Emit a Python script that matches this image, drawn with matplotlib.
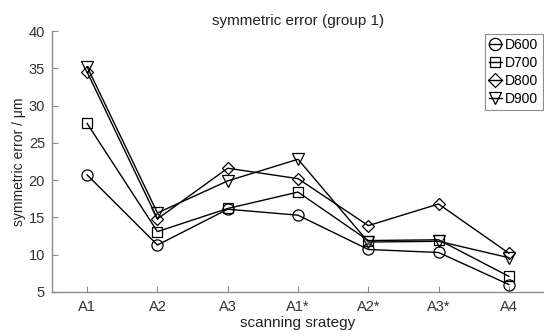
import matplotlib
matplotlib.use("Agg")
import matplotlib.pyplot as plt

plt.rcParams['font.family'] = ['Liberation Sans', 'DejaVu Sans']

# 扫描策略与各组误差
strategies = ['A1', 'A2', 'A3', 'A1*', 'A2*', 'A3*', 'A4']
d600 = [20.7, 11.3, 16.1, 15.3, 10.7, 10.3, 6.0]
d700 = [27.6, 13.1, 16.2, 18.4, 11.9, 12.0, 7.1]
d800 = [34.5, 14.8, 21.6, 20.2, 13.9, 16.8, 10.2]
d900 = [35.2, 15.6, 19.9, 22.8, 11.7, 11.8, 9.6]
yticks = [5, 10, 15, 20, 25, 30, 35, 40]

series = [('D600', d600, 'o'), ('D700', d700, 's'),
          ('D800', d800, 'D'), ('D900', d900, 'v')]
msize = {'o': 8, 's': 6.5, 'D': 6.5, 'v': 8}

fig = plt.figure(figsize=(5.44, 3.32), dpi=100)
ax = fig.add_axes([0.0956, 0.1205, 0.9044, 0.7861])

x = list(range(1, len(strategies) + 1))
for name, vals, m in series:
    ax.plot(x, vals, color='black', lw=1.0, marker=m, ms=msize[m],
            mfc='none', mec='black', mew=0.9, label=name)

ax.set_xlim(0.5, 7.5)
ax.set_ylim(5, 40)
ax.set_xticks(x)
ax.set_xticklabels(strategies)
ax.set_yticks(yticks)

grey = '#8c8c8c'
for s in ['top', 'right']:
    ax.spines[s].set_visible(False)
for s in ['left', 'bottom']:
    ax.spines[s].set_color(grey)
    ax.spines[s].set_linewidth(1.0)
ax.tick_params(direction='in', length=4, width=0.8, color=grey,
               labelcolor='#333333', labelsize=10.5, pad=5)
ax.tick_params(axis='x', pad=6)

ax.set_title('symmetric error (group 1)', fontsize=11, color='#222222', pad=4)
ax.set_xlabel('scanning srategy', fontsize=11, color='#222222', labelpad=1.5)
ax.set_ylabel('symmetric error / μm', fontsize=10, color='#222222', labelpad=2)

leg = ax.legend(loc='upper right', bbox_to_anchor=(0.997, 0.99), fontsize=10,
                handlelength=0.9, handletextpad=0.25, borderpad=0.3,
                labelspacing=0.3, borderaxespad=0.0, fancybox=False,
                framealpha=1, markerscale=1.1)
leg.get_frame().set_edgecolor(grey)
leg.get_frame().set_linewidth(0.8)

fig.savefig('out.png', dpi=100)
